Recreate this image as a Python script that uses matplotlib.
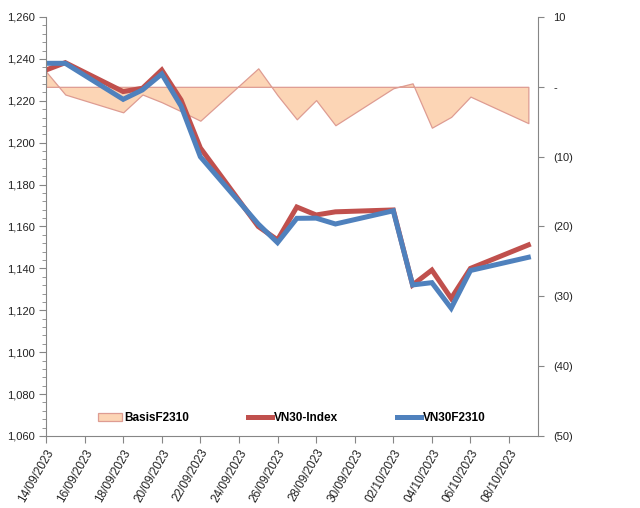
import numpy as np
import pandas as pd
import matplotlib
matplotlib.use("Agg")
import matplotlib.pyplot as plt
import matplotlib.dates as mdates
from matplotlib.ticker import FuncFormatter, MultipleLocator

plt.rcParams["font.family"] = ["Liberation Sans", "DejaVu Sans"]

# trading days
dates = pd.to_datetime([
    "2023-09-14", "2023-09-15", "2023-09-18", "2023-09-19", "2023-09-20",
    "2023-09-21", "2023-09-22", "2023-09-25", "2023-09-26", "2023-09-27",
    "2023-09-28", "2023-09-29", "2023-10-02", "2023-10-03", "2023-10-04",
    "2023-10-05", "2023-10-06", "2023-10-09",
])
vn30_index = [1234.7, 1238.2, 1224.4, 1226.0, 1234.7, 1220.4, 1197.5, 1160.0,
              1153.6, 1169.3, 1165.5, 1167.0, 1167.9, 1132.1, 1139.2, 1125.7,
              1140.0, 1151.2]
vn30f2310 = [1237.9, 1237.9, 1220.7, 1225.2, 1232.8, 1217.5, 1193.3, 1161.2,
             1152.3, 1163.9, 1164.0, 1161.2, 1167.5, 1132.1, 1133.2, 1121.0,
             1139.0, 1145.3]
basis = [2.2, -1.1, -3.65, -1.1, -2.2, -3.5, -4.85, 2.65, -1.2, -4.65,
         -1.9, -5.5, -0.2, 0.5, -5.85, -4.3, -1.4, -5.2]

tick_dates = pd.date_range("2023-09-14", "2023-10-08", freq="2D")

fig = plt.figure(figsize=(6.4, 5.08), dpi=100)
ax = fig.add_axes([46 / 640, 1 - 436 / 508, 492 / 640, 419 / 508])
ax2 = ax.twinx()

# basis area on the secondary axis, drawn behind the index lines
area = ax2.fill_between(dates, basis, 0, facecolor="#FCD5B5",
                        edgecolor="#DE9C92", linewidth=0.9, label="BasisF2310")
ax.set_zorder(ax2.get_zorder() + 1)
ax.patch.set_visible(False)

l1, = ax.plot(dates, vn30_index, color="#C0504D", linewidth=3.6,
              solid_joinstyle="miter", label="VN30-Index")
l2, = ax.plot(dates, vn30f2310, color="#4F81BD", linewidth=3.6,
              solid_joinstyle="miter", label="VN30F2310")

gray = "#868686"
ax.set_ylim(1060, 1260)
ax.yaxis.set_major_locator(MultipleLocator(20))
ax.yaxis.set_minor_locator(MultipleLocator(4))
ax.yaxis.set_major_formatter(FuncFormatter(lambda v, p: f"{v:,.0f}"))
ax2.set_ylim(-50, 10)
ax2.yaxis.set_major_locator(MultipleLocator(10))


def paren_fmt(v, pos):
    if abs(v) < 1e-9:
        return "-"
    if v < 0:
        return f"({abs(v):.0f})"
    return f"{v:.0f}"


ax2.yaxis.set_major_formatter(FuncFormatter(paren_fmt))

ax.set_xlim(dates[0], pd.Timestamp("2023-10-09 12:00"))
ax.set_xticks(tick_dates)
ax.xaxis.set_major_formatter(mdates.DateFormatter("%d/%m/%Y"))
for lab in ax.get_xticklabels():
    lab.set_rotation(60)
    lab.set_ha("right")
    lab.set_rotation_mode("anchor")

for a in (ax, ax2):
    a.spines["top"].set_visible(False)
    for s in ("left", "right", "bottom"):
        a.spines[s].set_color(gray)
ax.spines["right"].set_visible(False)
ax2.spines["left"].set_visible(False)
ax2.spines["bottom"].set_visible(False)

ax.tick_params(axis="y", which="major", length=5, color=gray, labelsize=8,
               pad=3, labelcolor="#222222")
ax.tick_params(axis="y", which="minor", length=3, color=gray)
ax.tick_params(axis="x", length=5, color=gray, labelsize=8.5, pad=3,
               labelcolor="#222222")
ax2.tick_params(axis="y", length=4, color=gray, labelsize=8, pad=7,
                labelcolor="#222222")

leg = ax.legend(handles=[area, l1, l2], loc="center", ncol=3,
                bbox_to_anchor=(0.50, 0.043), frameon=False,
                prop={"weight": "bold", "size": 8.5}, handlelength=2.0,
                handletextpad=0.2, columnspacing=5.0)

fig.savefig("out.png", dpi=100)
